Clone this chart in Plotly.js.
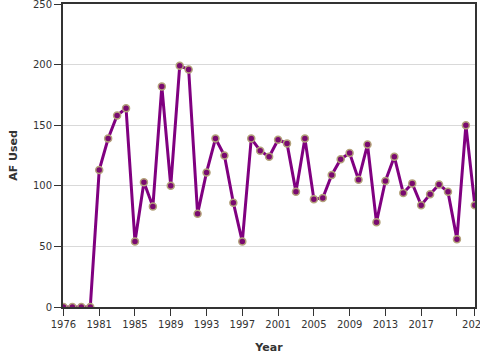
<!DOCTYPE html>
<html>
<head>
<meta charset="utf-8">
<script src="https://cdn.plot.ly/plotly-3.0.1.min.js"></script>
<style>html,body{margin:0;padding:0;background:#fff;}#chart{width:480px;height:360px;}</style>
</head>
<body>
<div id="chart"></div>
<script>
const years = ['1976','1977','1978','1979','1981','1982','1983','1984','1985','1986','1987','1988','1989','1990','1991','1992','1993','1994','1995','1996','1997','1998','1999','2000','2001','2002','2003','2004','2005','2006','2007','2008','2009','2010','2011','2012','2013','2014','2015','2016','2017','2018','2019','2020','2021','2022','2023'];
const afUsed = [0,0,0,0,113,139,158,164,54,103,83,182,100,199,196,77,111,139,125,86,54,139,129,124,138,135,95,139,89,90,109,122,127,105,134,70,104,124,94,102,84,93,101,95,56,150,84];
const tickYears = ['1976','1981','1985','1989','1993','1997','2001','2005','2009','2013','2017','2021','2023'];
const tickLabels = ['1976','1981','1985','1989','1993','1997','2001','2005','2009','2013','2017','','2023'];

const font = 'DejaVu Sans, Verdana, sans-serif';
const trace = {
  x: years, y: afUsed, type: 'scatter', mode: 'lines+markers',
  line: {color: '#800080', width: 3},
  marker: {size: 7, color: '#7a0a70', line: {color: '#b3a27a', width: 1.5}},
  hoverinfo: 'x+y'
};
const layout = {
  width: 480, height: 360,
  margin: {l: 63, r: 5, t: 4, b: 53},
  paper_bgcolor: '#fff', plot_bgcolor: '#fff',
  showlegend: false,
  font: {family: font, size: 10, color: '#333'},
  xaxis: {
    type: 'category', range: [-0.05, 46.02],
    tickmode: 'array', tickvals: tickYears, ticktext: tickLabels,
    ticks: 'outside', ticklen: 7, tickwidth: 1, tickcolor: '#333',
    showline: true, linecolor: '#333', linewidth: 2, mirror: true,
    showgrid: false, zeroline: false, ticklabeloverflow: 'allow',
    tickfont: {family: font, size: 10, color: '#333'},
    title: {text: 'Year', font: {family: font, size: 11, color: '#333', weight: 'bold'}, standoff: 14}
  },
  yaxis: {
    range: [0, 250], tickvals: [0,50,100,150,200,250],
    ticks: 'outside', ticklen: 7, tickwidth: 1, tickcolor: '#333',
    showline: true, linecolor: '#333', linewidth: 2, mirror: true,
    showgrid: true, gridcolor: '#d9d9d9', gridwidth: 1, zeroline: false,
    ticklabeloverflow: 'allow',
    tickfont: {family: font, size: 10, color: '#333'},
    title: {text: 'AF Used', font: {family: font, size: 11, color: '#333', weight: 'bold'}, standoff: 13}
  }
};
Plotly.newPlot('chart', [trace], layout, {displayModeBar: false, staticPlot: true});
</script>
</body>
</html>
